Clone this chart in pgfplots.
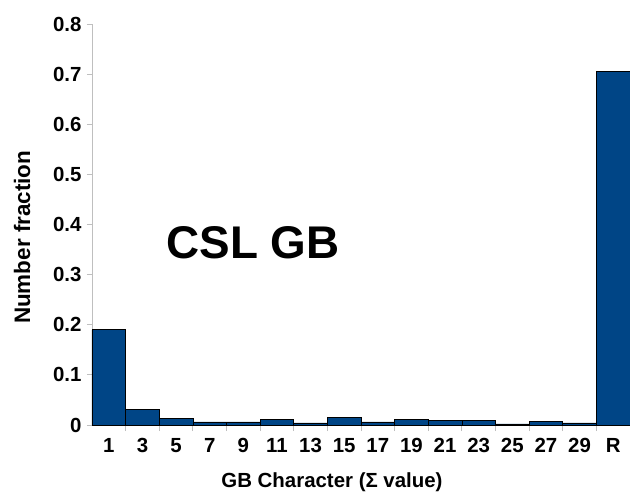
\documentclass[border=0pt]{standalone}
\usepackage{pgfplots}
\pgfplotsset{compat=1.18}
\usepackage{fontspec}
\setmainfont{Liberation Sans}
\definecolor{barblue}{HTML}{004586}
\begin{document}
\begin{tikzpicture}
\begin{axis}[
  scale only axis,
  width=538bp, height=401bp,
  xmin=-0.5, xmax=15.5, ymin=0, ymax=0.8,
  ytick={0,0.1,0.2,0.3,0.4,0.5,0.6,0.7,0.8},
  xtick={0,1,2,3,4,5,6,7,8,9,10,11,12,13,14,15},
  xticklabels={1,3,5,7,9,11,13,15,17,19,21,23,25,27,29,R},
  minor xtick={0.5,1.5,2.5,3.5,4.5,5.5,6.5,7.5,8.5,9.5,10.5,11.5,12.5,13.5,14.5},
  axis lines*=left,
  axis line style={black!25, line width=0.8pt},
  tick style={black!25, line width=0.8pt},
  major x tick style={draw=none},
  tick align=outside,
  major tick length=5bp, minor tick length=6bp,
  /pgf/number format/.cd, fixed, precision=1, assume math mode=true,
  /pgfplots/.cd,
  ticklabel style={font=\fontsize{20.5}{20.5}\selectfont\bfseries},
  yticklabel style={xshift=-2bp},
  xticklabel style={yshift=-5bp},
  xlabel={GB Character (Σ value)},
  ylabel={Number fraction},
  xlabel style={font=\fontsize{20.5}{20.5}\selectfont\bfseries, at={(axis description cs:0.5,0)}, anchor=center, yshift=-57bp, xshift=-29bp},
  ylabel style={font=\fontsize{22.5}{22.5}\selectfont\bfseries, at={(axis description cs:-0.130,0.468)}, anchor=center},
  clip=false,
]
\addplot[ybar, bar width=1, fill=barblue, draw=black, line width=0.6pt] coordinates {
 (0,0.190) (1,0.031) (2,0.013) (3,0.006) (4,0.006) (5,0.011) (6,0.004) (7,0.015)
 (8,0.006) (9,0.011) (10,0.009) (11,0.009) (12,0.002) (13,0.007) (14,0.004) (15,0.706)
};
\node[font=\fontsize{46}{46}\selectfont\bfseries] at (axis cs:4.29,0.363) {CSL GB};
\coordinate (bbsw) at (rel axis cs:0,0);
\coordinate (bbne) at (rel axis cs:1,1);
\end{axis}
\pgfresetboundingbox
\path ([xshift=-92bp,yshift=-69bp]bbsw) rectangle ([yshift=24bp]bbne);
\end{tikzpicture}
\end{document}
